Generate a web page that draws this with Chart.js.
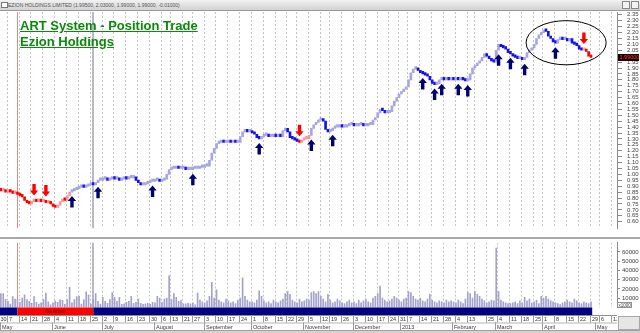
<!DOCTYPE html>
<html><head><meta charset="utf-8">
<script src="https://cdn.jsdelivr.net/npm/chart.js@4.4.1/dist/chart.umd.min.js"></script>
<style>
html,body{margin:0;padding:0;background:#fff;}
body{width:640px;height:333px;overflow:hidden;position:relative;font-family:"Liberation Sans",Arial,sans-serif;}
#c1{position:absolute;left:0;top:0;}
#c2{position:absolute;left:0;top:237px;}
#sep{position:absolute;left:0;top:237px;width:640px;height:2px;background:#a8a8a8;}
#bar{position:absolute;left:0;top:0;width:640px;height:10px;background:linear-gradient(#f2f2f2,#d2d2d2);border-bottom:1px solid #9a9a9a;}
#bar .t{position:absolute;left:8px;top:1px;font-size:5px;line-height:8px;color:#505050;white-space:nowrap;}
#bar .ic{position:absolute;left:1px;top:2px;width:5px;height:4px;background:#fff;border:1px solid #777;}
#bar .b{position:absolute;top:1px;width:6px;height:6px;border:1px solid #888;background:#f4f4f4;}
#title{position:absolute;left:20px;top:18px;color:#0a8a0a;font-weight:bold;font-size:13px;line-height:16px;text-decoration:underline;white-space:nowrap;}
</style></head><body>
<canvas id="c1" width="640" height="237"></canvas>
<canvas id="c2" width="640" height="96"></canvas>
<div id="sep"></div>
<div id="bar"><div class="ic"></div><div class="t">EZION HOLDINGS LIMITED (1.99500, 2.03000, 1.99000, 1.99000, -0.01000)</div><div class="b" style="left:622px"></div><div class="b" style="left:631px"></div></div>
<div id="title">ART System - Position Trade<br>Ezion Holdings</div>
<script>
// ---------- calendar ----------
const holidays = ['2012-05-01','2012-08-09','2012-08-20','2012-10-26','2012-11-13','2012-12-25','2013-01-01','2013-02-11','2013-02-12','2013-03-29','2013-05-01'];
const axisFirstDay = '2012-04-30';
const axisLastDay = '2013-05-17';
const monthLabels = ['May','June','July','August','September','October','November','December','2013','February','March','April','May'];

// ---------- daily closes ----------
const close_2012_04 = [0.87];
const close_2012_05 = [0.86,0.87,0.85,0.86,0.85,0.84,0.84,0.83,0.82,0.81,0.78,0.76,0.75,0.77,0.78,0.77,0.78,0.77,0.77,0.76,0.76,0.75];
const close_2012_06 = [0.73,0.72,0.74,0.77,0.79,0.78,0.82,0.85,0.86,0.87,0.88,0.89,0.90,0.89,0.90,0.91,0.92,0.91,0.93,0.95,0.95];
const close_2012_07 = [0.96,0.96,0.95,0.96,0.97,0.96,0.96,0.95,0.96,0.97,0.96,0.97,0.97,0.98,0.95,0.93,0.91,0.91,0.92,0.93,0.94,0.94];
const close_2012_08 = [0.95,0.95,0.94,0.95,0.96,1.00,1.04,1.05,1.05,1.06,1.05,1.05,1.06,1.04,1.04,1.04,1.05,1.05,1.05,1.06,1.06];
const close_2012_09 = [1.07,1.07,1.12,1.18,1.22,1.26,1.27,1.28,1.27,1.27,1.28,1.27,1.28,1.27,1.27,1.32,1.36,1.37,1.36,1.36];
const close_2012_10 = [1.35,1.34,1.31,1.30,1.32,1.33,1.33,1.32,1.32,1.33,1.32,1.33,1.32,1.37,1.39,1.36,1.31,1.30,1.29,1.28,1.27,1.29];
const close_2012_11 = [1.30,1.30,1.33,1.39,1.42,1.44,1.46,1.47,1.45,1.38,1.36,1.37,1.39,1.40,1.40,1.41,1.40,1.40,1.41,1.42,1.42];
const close_2012_12 = [1.41,1.41,1.42,1.42,1.41,1.41,1.42,1.42,1.46,1.48,1.52,1.55,1.54,1.52,1.52,1.53,1.58,1.62,1.65,1.68];
const close_2013_01 = [1.70,1.72,1.74,1.80,1.86,1.89,1.90,1.88,1.86,1.85,1.84,1.83,1.80,1.77,1.76,1.77,1.80,1.81,1.80,1.81,1.80,1.81];
const close_2013_02 = [1.80,1.81,1.80,1.81,1.80,1.79,1.80,1.85,1.90,1.92,1.94,1.96,1.99,2.02,2.00,1.98,1.96,1.95];
const close_2013_03 = [2.05,2.10,2.08,2.07,2.06,2.03,2.02,2.00,1.99,1.98,1.98,1.97,1.99,2.03,2.05,2.07,2.10,2.15,2.18,2.20];
const close_2013_04 = [2.22,2.21,2.17,2.15,2.12,2.11,2.14,2.15,2.14,2.14,2.13,2.15,2.11,2.10,2.09,2.06,2.05,2.06,2.04,2.00,1.99];

// ---------- daily volume ----------
const vol_2012_04 = [12000];
const vol_2012_05 = [14800,15000,8600,6500,3600,11700,9000,8600,5500,10000,13700,8500,6500,4500,11700,5600,3700,4900,8500,15500,6000,2700];
const vol_2012_06 = [5000,7000,5600,8500,7600,3200,8500,21600,5000,8500,11700,12000,3500,8500,16800,13400,3500,9000,14800,6500,3500];
const vol_2012_07 = [11000,6500,4500,8500,16000,11000,6500,11000,3200,3800,5500,6500,12000,4500,5500,9000,4500,3200,3800,4500,3200,5500];
const vol_2012_08 = [5000,12000,10000,5500,9000,10000,34000,8500,15000,11000,6500,7500,3800,3800,4500,3800,5000,2700,15500,8000,6000];
const vol_2012_09 = [5000,7000,12000,27000,10000,19000,8000,6000,5000,9000,7000,5000,6000,4000,8000,10000,32000,12000,8000,6000];
const vol_2012_10 = [6000,5000,8000,18000,12000,7000,5000,6000,4000,8000,6000,5000,7000,9000,15000,17000,14000,8000,6000,5000,9000,6000];
const vol_2012_11 = [7000,9000,8000,16000,17000,15000,17000,12000,9000,6000,14000,8000,5000,6000,9000,7000,5000,4000,6000,8000,5000];
const vol_2012_12 = [6000,4000,8000,5000,7000,9000,6000,5000,10000,12000,15000,23000,10000,8000,6000,7000,9000,12000,10000,8000];
const vol_2013_01 = [6000,9000,10000,17000,16000,12000,9000,8000,10000,7000,6000,9000,14000,8000,6000,5000,7000,6000,5000,8000,6000,7000];
const vol_2013_02 = [6000,5000,8000,6000,4000,9000,16000,15000,10000,17000,14000,12000,9000,7000,5000,6000,8000,7000];
const vol_2013_03 = [64000,17000,8000,6000,5000,4000,4000,5000,6000,4000,7000,5000,11000,7000,9000,5000,6000,8000,4000,12000];
const vol_2013_04 = [10000,12000,9000,7000,6000,5000,4000,3000,5000,6000,8000,6000,5000,9000,7000,5000,4000,6000,5000,4000,6000];

// ---------- signals / annotations (trading-day index) ----------
const buySignals = [31,42,65,82,110,132,141,179,184,187,194,198,211,216,222,235];
const sellSignals = [15,20,127,247];
const initialRegime = 'bear';
const trendBand = [{from:0,label:'Bullish'},{from:8,label:'Bearish'},{from:40,label:'Bullish'}];
const markerLines = [{at:8,color:'#e08a8a',w:1},{at:40,color:'#b8b8cc',w:2}];
const circleZone = {i0:222.6,i1:256.4,pLo:1.927,pHi:2.301};
const priceTicks = [0.60,0.65,0.70,0.75,0.80,0.85,0.90,0.95,1.00,1.05,1.10,1.15,1.20,1.25,1.30,1.35,1.40,1.45,1.50,1.55,1.60,1.65,1.70,1.75,1.80,1.85,1.90,1.95,2.00,2.05,2.10,2.15,2.20,2.25,2.30,2.35];
const volTicks = [10000,20000,30000,40000,50000,60000];
const lastPriceLabel = '1.99000';

// ---------- derived ----------
const closes = [].concat(close_2012_04,close_2012_05,close_2012_06,close_2012_07,close_2012_08,close_2012_09,close_2012_10,close_2012_11,close_2012_12,close_2013_01,close_2013_02,close_2013_03,close_2013_04);
const volumes = [].concat(vol_2012_04,vol_2012_05,vol_2012_06,vol_2012_07,vol_2012_08,vol_2012_09,vol_2012_10,vol_2012_11,vol_2012_12,vol_2013_01,vol_2013_02,vol_2013_03,vol_2013_04);
const opens = closes.map((c,i)=> i>0 ? closes[i-1] : c);

const days = [];
(function(){
  const d = new Date(axisFirstDay+'T00:00:00Z'), end = new Date(axisLastDay+'T00:00:00Z');
  while (d <= end) {
    const w = d.getUTCDay(), iso = d.toISOString().slice(0,10);
    if (w!==0 && w!==6 && holidays.indexOf(iso)<0) days.push(new Date(d));
    d.setUTCDate(d.getUTCDate()+1);
  }
})();
const weekKey = d => Math.floor((d.getTime()/86400000 + 3)/7);
const weekTicks = [], monthTicks = [];
days.forEach((d,i)=>{
  if (i===0 || weekKey(d)!==weekKey(days[i-1])) weekTicks.push(i);
  if (i>0 && d.getUTCMonth()!==days[i-1].getUTCMonth()) monthTicks.push(i);
});
const regime = [];
(function(){
  let r = initialRegime;
  for (let i=0;i<closes.length;i++){
    if (buySignals.indexOf(i)>=0) r='bull';
    if (sellSignals.indexOf(i)>=0) r='bear';
    regime.push(r);
  }
})();

const xMin = 0.633, xMax = 260.97;
const FONT = '"Liberation Sans", Arial, sans-serif';
Chart.defaults.font.family = FONT;

function candleColor(ctx){
  const i = ctx.dataIndex; const up = closes[i] >= opens[i];
  if (regime[i]==='bear') return up ? '#ff9494' : '#ff0000';
  return up ? '#a6a6e6' : '#1212f0';
}

function drawArrow(ctx,x,tipY,up,color){
  const hw=4.2, hh=5, sw=1.7, sl=6.5;
  const s = up ? 1 : -1;
  ctx.fillStyle=color; ctx.beginPath();
  ctx.moveTo(x,tipY);
  ctx.lineTo(x+hw,tipY+s*hh); ctx.lineTo(x+sw,tipY+s*hh); ctx.lineTo(x+sw,tipY+s*(hh+sl));
  ctx.lineTo(x-sw,tipY+s*(hh+sl)); ctx.lineTo(x-sw,tipY+s*hh); ctx.lineTo(x-hw,tipY+s*hh);
  ctx.closePath(); ctx.fill();
}

function drawVGrid(chart){
  const {ctx, chartArea:a, scales:{x}} = chart;
  ctx.save();
  ctx.beginPath(); ctx.rect(a.left,a.top,a.right-a.left,a.bottom-a.top); ctx.clip();
  ctx.strokeStyle='#c4c4c4'; ctx.lineWidth=1; ctx.setLineDash([2,2]);
  weekTicks.forEach(i=>{
    const px = Math.round(x.getPixelForValue(i-0.5))+0.5;
    ctx.beginPath(); ctx.moveTo(px,a.top); ctx.lineTo(px,a.bottom); ctx.stroke();
  });
  ctx.setLineDash([]);
  markerLines.forEach(m=>{
    const px = Math.round(x.getPixelForValue(m.at)) + (m.w%2 ? 0.5 : 0);
    ctx.strokeStyle=m.color; ctx.lineWidth=m.w;
    ctx.beginPath(); ctx.moveTo(px,a.top); ctx.lineTo(px,a.bottom); ctx.stroke();
  });
  ctx.restore();
}

const pricePlugin = {
  id:'pricePlugin',
  beforeDatasetsDraw(chart){ drawVGrid(chart); },
  afterDatasetsDraw(chart){
    const {ctx, chartArea:a, scales:{x,y}} = chart;
    ctx.save();
    ctx.beginPath(); ctx.rect(a.left,a.top,a.right-a.left,a.bottom-a.top); ctx.clip();
    buySignals.forEach(i=>{
      const lo = Math.min(opens[i],closes[i]);
      drawArrow(ctx, x.getPixelForValue(i), y.getPixelForValue(lo)+4, true, '#000070');
    });
    sellSignals.forEach(i=>{
      const hi = Math.max(opens[i],closes[i]);
      drawArrow(ctx, x.getPixelForValue(i), y.getPixelForValue(hi)-5, false, '#ff0000');
    });
    const cx = x.getPixelForValue((circleZone.i0+circleZone.i1)/2);
    const cy = y.getPixelForValue((circleZone.pLo+circleZone.pHi)/2);
    const rx = (x.getPixelForValue(circleZone.i1)-x.getPixelForValue(circleZone.i0))/2;
    const ry = (y.getPixelForValue(circleZone.pLo)-y.getPixelForValue(circleZone.pHi))/2;
    ctx.strokeStyle='#000'; ctx.lineWidth=1;
    ctx.beginPath(); ctx.ellipse(cx,cy,rx,ry,0,0,Math.PI*2); ctx.stroke();
    ctx.restore();
  },
  afterDraw(chart){
    const {ctx, scales:{y}} = chart;
    const last = closes[closes.length-1];
    const py = y.getPixelForValue(last);
    ctx.save();
    ctx.fillStyle='#1a0000'; ctx.fillRect(618, Math.round(py-3.5), 21, 7);
    ctx.fillStyle='#ff3b3b'; ctx.font='5.5px '+FONT; ctx.textBaseline='middle'; ctx.textAlign='left';
    ctx.fillText(lastPriceLabel, 619.5, py+0.3);
    ctx.restore();
  }
};

const volPlugin = {
  id:'volPlugin',
  beforeDatasetsDraw(chart){ drawVGrid(chart); },
  afterDraw(chart){
    const {ctx, chartArea:a, scales:{x}} = chart;
    const bandTop=70.5, bandH=7.5, r1=78, r2=85.5, r3=93;
    ctx.save();
    ctx.strokeStyle='#909090'; ctx.lineWidth=1; ctx.fillStyle='#fff';
    ctx.fillRect(617.5,65.5,14,5); ctx.strokeRect(617.5,65.5,14,5);
    ctx.fillStyle='#404040'; ctx.font='4.5px '+FONT; ctx.textBaseline='alphabetic';
    ctx.fillText('x1000',618.5,69.8);
    const lastIdx = closes.length-1;
    const endPx = x.getPixelForValue(lastIdx)+1.2;
    trendBand.forEach((seg,k)=>{
      const s = k===0 ? 0 : x.getPixelForValue(seg.from);
      const e = k<trendBand.length-1 ? x.getPixelForValue(trendBand[k+1].from) : endPx;
      ctx.fillStyle = seg.label==='Bearish' ? '#ff0000' : '#000080';
      ctx.fillRect(s,bandTop,e-s,bandH);
      ctx.fillStyle = seg.label==='Bearish' ? '#700000' : '#10104a';
      ctx.font='6px '+FONT; ctx.textAlign='center'; ctx.textBaseline='middle';
      if (e-s>30) ctx.fillText(seg.label,(s+e)/2,bandTop+bandH/2+0.5);
    });
    ctx.fillStyle='#fff'; ctx.fillRect(0,r1,617,r3-r1);
    ctx.strokeStyle='#8c8c8c'; ctx.lineWidth=1;
    ctx.beginPath(); ctx.moveTo(0,r1+0.5); ctx.lineTo(617,r1+0.5); ctx.stroke();
    ctx.strokeStyle='#b4b4b4';
    ctx.beginPath(); ctx.moveTo(0,r2+0.5); ctx.lineTo(617,r2+0.5); ctx.stroke();
    ctx.font='5.5px '+FONT; ctx.textAlign='left'; ctx.textBaseline='alphabetic';
    let lastShown=-99;
    weekTicks.forEach(i=>{
      if (i-lastShown<4) return;
      lastShown=i;
      const px = Math.round(x.getPixelForValue(i-0.5))+0.5;
      if (px>616) return;
      ctx.strokeStyle='#9a9a9a'; ctx.beginPath(); ctx.moveTo(px,r1); ctx.lineTo(px,r2); ctx.stroke();
      ctx.fillStyle='#383838';
      const lab = String(days[i].getUTCDate());
      ctx.save(); ctx.beginPath(); ctx.rect(0,r1,617,r2-r1); ctx.clip();
      ctx.fillText(lab, Math.max(px+1.5,0.5), r1+6.2);
      ctx.restore();
    });
    monthTicks.forEach((i,k)=>{
      const px = Math.round(x.getPixelForValue(i-0.5))+0.5;
      if (px>616 || k>=monthLabels.length) return;
      ctx.strokeStyle='#9a9a9a'; ctx.beginPath(); ctx.moveTo(px,r2); ctx.lineTo(px,r3); ctx.stroke();
      ctx.fillStyle='#383838';
      ctx.fillText(monthLabels[k], px+1.5, r2+6.2);
    });
    ctx.strokeStyle='#a0a0a0';
    ctx.beginPath(); ctx.moveTo(0,r3+0.5); ctx.lineTo(640,r3+0.5); ctx.stroke();
    ctx.fillStyle='#d6d3cc'; ctx.fillRect(0,r3+1,640,3);
    ctx.fillStyle='#e6e6e6'; ctx.fillRect(618,r1+1,22,r3-r1-1);
    ctx.strokeStyle='#a8a8a8'; ctx.strokeRect(618.5,r1+1.5,21,r3-r1-2);
    ctx.restore();
  }
};

new Chart(document.getElementById('c1'), {
  type:'bar',
  data:{datasets:[{
    data: closes.map((c,i)=>({x:i, y:[opens[i], c]})),
    backgroundColor: candleColor, borderWidth:0, barThickness:2, minBarLength:2.5
  }]},
  options:{
    responsive:false, animation:false, events:[],
    layout:{padding:{top:12,left:0,right:0,bottom:0}},
    plugins:{legend:{display:false}, tooltip:{enabled:false}},
    scales:{
      x:{type:'linear', display:false, min:xMin, max:xMax, bounds:'data', offset:false},
      y:{position:'right', min:0.543, max:2.374, bounds:'data',
        afterBuildTicks:s=>{ s.ticks = priceTicks.map(v=>({value:v})); },
        afterFit:s=>{ s.width = 23; },
        grid:{drawOnChartArea:false, drawTicks:true, tickLength:5, color:'#8a8a8a'},
        border:{display:true, color:'#8a8a8a'},
        ticks:{autoSkip:false, font:{size:6}, color:'#404040', padding:5, callback:v=>Number(v).toFixed(2)}}
    }
  },
  plugins:[pricePlugin]
});

new Chart(document.getElementById('c2'), {
  type:'bar',
  data:{datasets:[{
    data: volumes.map((v,i)=>({x:i, y:v})),
    backgroundColor:'#a2a2ca', borderWidth:0, barThickness:1
  }]},
  options:{
    responsive:false, animation:false, events:[],
    layout:{padding:{top:2,left:0,right:0,bottom:25.6}},
    plugins:{legend:{display:false}, tooltip:{enabled:false}},
    scales:{
      x:{type:'linear', display:false, min:xMin, max:xMax, bounds:'data', offset:false},
      y:{position:'right', min:0, max:70000, bounds:'data',
        afterBuildTicks:s=>{ s.ticks = volTicks.map(v=>({value:v})); },
        afterFit:s=>{ s.width = 23; },
        grid:{drawOnChartArea:false, drawTicks:true, tickLength:3, color:'#8a8a8a'},
        border:{display:true, color:'#8a8a8a'},
        ticks:{autoSkip:false, font:{size:6}, color:'#404040', padding:2, callback:v=>String(v)}}
    }
  },
  plugins:[volPlugin]
});
</script>
</body></html>
